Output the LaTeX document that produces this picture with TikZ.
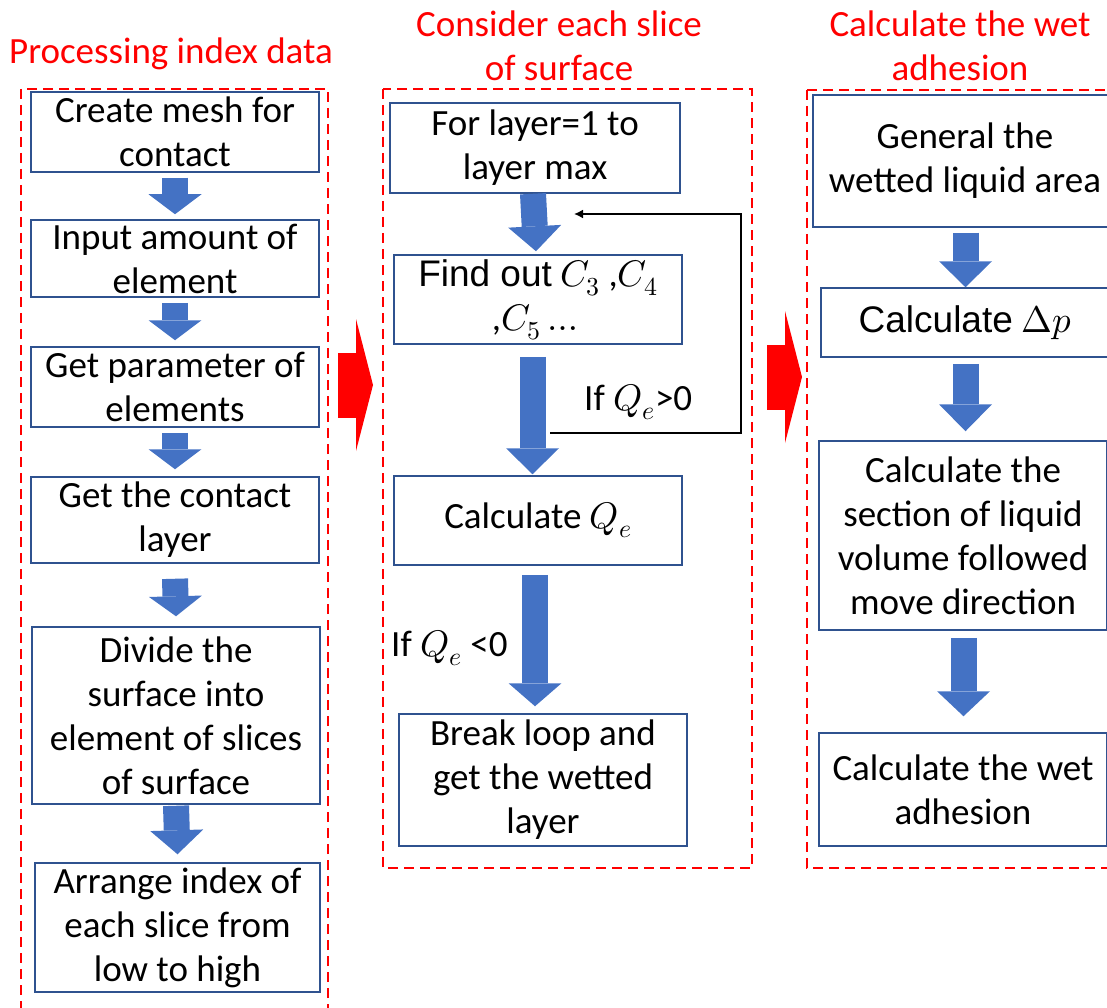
\documentclass[tikz,border=0pt]{standalone}
\usepackage{fontspec}
\usepackage{unicode-math}
\setmainfont{Carlito}
\newfontfamily\arialfont{Liberation Sans}
\usetikzlibrary{arrows.meta}

\definecolor{boxblue}{HTML}{2F528F}
\definecolor{arrowblue}{HTML}{4472C4}
\definecolor{framered}{HTML}{FF0000}
\newcommand{\boxfont}{\fontsize{37}{44}\selectfont}

\tikzset{
    stepbox/.style={draw=boxblue, line width=1.5pt, align=center, inner sep=0pt, font=\boxfont},
    groupframe/.style={draw=framered, line width=2.2pt, dash pattern=on 10pt off 6pt},
    coltitle/.style={text=framered, align=center, font=\boxfont},
    blockarrow/.style={draw=arrowblue, line width=26pt, -{Triangle[width=53pt,length=#1,line width=0pt]}},
    blockarrow/.default=22pt,
    redarrow/.style={draw=framered, line width=65pt, -{Triangle[width=132pt,length=17pt,line width=0pt]}},
    loopline/.style={draw=black, line width=1.6pt, -{Latex[length=9pt,width=9pt]}},
}

\begin{document}
\begin{tikzpicture}[x=1pt, y=-1pt]
    \useasboundingbox (0,0) rectangle (1107,1008);

    % dashed groups and their titles
    \draw[groupframe] (21,89) rectangle (328,1030);
    \draw[groupframe] (383,89) rectangle (752,868);
    \draw[groupframe] (807,90) rectangle (1130,868);
    \node[coltitle] (tL) at (171,54) {Processing index data};
    \node[coltitle] (tM) at (559,46) {Consider each slice\\of surface};
    \node[coltitle] (tR) at (960,46) {Calculate the wet\\adhesion};

    % left column
    \node[stepbox, minimum width=288pt, minimum height=80pt] (L1) at (175,132) {Create mesh for\\contact};
    \node[stepbox, minimum width=288pt, minimum height=77pt] (L2) at (175,258.5) {Input amount of\\element};
    \node[stepbox, minimum width=288pt, minimum height=80pt] (L3) at (175,387) {Get parameter of\\elements};
    \node[stepbox, minimum width=288pt, minimum height=86pt] (L4) at (175,520) {Get the contact\\layer};
    \node[stepbox, minimum width=288pt, minimum height=177pt] (L5) at (176,715.5) {Divide the\\surface into\\element of slices\\of surface};
    \node[stepbox, minimum width=285pt, minimum height=129pt] (L6) at (177.5,927.5) {Arrange index of\\each slice from\\low to high};

    \draw[blockarrow=20pt] ([yshift=-5pt]L1.south) -- ([yshift=5pt]L2.north);
    \draw[blockarrow=20pt] ([yshift=-5pt]L2.south) -- ([yshift=6pt]L3.north);
    \draw[blockarrow=20pt] ([yshift=-5pt]L3.south) -- ([yshift=7pt]L4.north);
    \draw[blockarrow=20pt] ([yshift=-15pt]L4.south) -- ([yshift=10pt]L5.north);
    \draw[blockarrow=24pt] ([yshift=-1pt]L5.south) -- ([yshift=8pt]L6.north);

    % middle column
    \node[stepbox, minimum width=290pt, minimum height=90pt] (M1) at (535,148) {For layer=1 to\\layer max};
    \node[stepbox, minimum width=288pt, minimum height=89pt] (M2) at (538,299.5) {{\arialfont Find out} $C_3$ ,$C_4$\\,$C_5\dots$};
    \node[stepbox, minimum width=288pt, minimum height=89pt] (M3) at (538,520.5) {Calculate $Q_e$};
    \node[stepbox, minimum width=288pt, minimum height=132pt] (M4) at (543,780) {Break loop and\\get the wetted\\layer};

    \draw[blockarrow=25pt] ([xshift=-2pt]M1.south) -- ([xshift=-2pt,yshift=3pt]M2.north);
    \draw[blockarrow=26pt] ([xshift=-5.5pt,yshift=-12pt]M2.south) -- ([xshift=-5.5pt,yshift=1pt]M3.north);
    \draw[blockarrow=23pt] ([xshift=-3pt,yshift=-9pt]M3.south) -- ([xshift=-8pt,yshift=7pt]M4.north);

    \coordinate (loopout) at (550,433);
    \coordinate (loopin) at (574,214);
    \draw[loopline] (loopout) -- ++(191,0) |- (loopin);
    \node[font=\boxfont, anchor=west, inner sep=0pt] (ifpos) at (584,402) {If $Q_e$>0};
    \node[font=\boxfont, anchor=west, inner sep=0pt] (ifneg) at (391,648) {If $Q_e$ <0};

    % right column
    \node[stepbox, minimum width=304pt, minimum height=132pt] (R1) at (965,161) {General the\\wetted liquid area};
    \node[stepbox, minimum width=288pt, minimum height=69pt] (R2) at (965,322.5) {{\arialfont Calculate} $\mitDelta p$};
    \node[stepbox, minimum width=288pt, minimum height=189pt] (R3) at (963,535.5) {Calculate the\\section of liquid\\volume followed\\move direction};
    \node[stepbox, minimum width=288pt, minimum height=113pt] (R4) at (963,789.5) {Calculate the wet\\adhesion};

    \draw[blockarrow=26pt] ([xshift=0.5pt,yshift=-5pt]R1.south) -- ([xshift=0.5pt]R2.north);
    \draw[blockarrow=27pt] ([xshift=0.5pt,yshift=-6pt]R2.south) -- ([xshift=2.5pt,yshift=9pt]R3.north);
    \draw[blockarrow=25pt] ([xshift=0.5pt,yshift=-7pt]R3.south) -- ([xshift=0.5pt,yshift=16pt]R4.north);

    % between the groups
    \draw[redarrow] (338,385) -- (373,385);
    \draw[redarrow] (767,377) -- (802,377);
\end{tikzpicture}
\end{document}
